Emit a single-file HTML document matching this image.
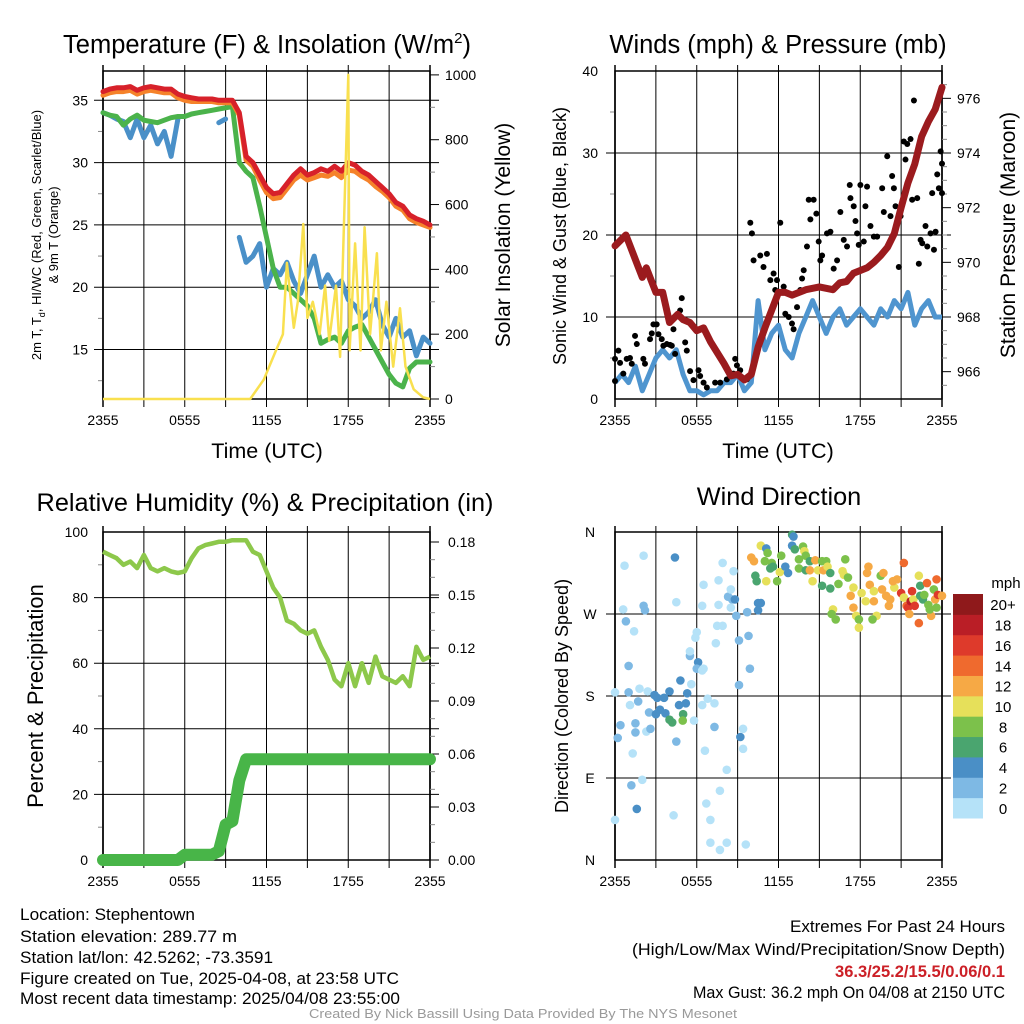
<!DOCTYPE html>
<html><head><meta charset="utf-8">
<style>
html,body{margin:0;padding:0;background:#fff;}
svg{display:block;font-family:"Liberation Sans",sans-serif;}
</style></head>
<body>
<svg id="fig" width="1024" height="1024" viewBox="0 0 1024 1024" xmlns="http://www.w3.org/2000/svg">
<rect width="1024" height="1024" fill="#fff"/>
<g id="footer">
<text x="20" y="920" font-size="17" textLength="175" lengthAdjust="spacingAndGlyphs">Location: Stephentown</text>
<text x="20" y="942" font-size="17" textLength="217" lengthAdjust="spacingAndGlyphs">Station elevation: 289.77 m</text>
<text x="20" y="963" font-size="17" textLength="253" lengthAdjust="spacingAndGlyphs">Station lat/lon: 42.5262; -73.3591</text>
<text x="20" y="984" font-size="17" textLength="379" lengthAdjust="spacingAndGlyphs">Figure created on Tue, 2025-04-08, at 23:58 UTC</text>
<text x="20" y="1004" font-size="17" textLength="380" lengthAdjust="spacingAndGlyphs">Most recent data timestamp: 2025/04/08 23:55:00</text>
<text x="790" y="932" font-size="17" textLength="215" lengthAdjust="spacingAndGlyphs">Extremes For Past 24 Hours</text>
<text x="632" y="955" font-size="17" textLength="373" lengthAdjust="spacingAndGlyphs">(High/Low/Max Wind/Precipitation/Snow Depth)</text>
<text x="835" y="977" font-size="17" font-weight="bold" fill="#cc2027" textLength="170" lengthAdjust="spacingAndGlyphs">36.3/25.2/15.5/0.06/0.1</text>
<text x="693" y="998" font-size="17" textLength="312" lengthAdjust="spacingAndGlyphs">Max Gust: 36.2 mph On 04/08 at 2150 UTC</text>
<text x="309" y="1018" font-size="13" fill="#999" textLength="428" lengthAdjust="spacingAndGlyphs">Created By Nick Bassill Using Data Provided By The NYS Mesonet</text>
</g>
</svg>
<script>
// ---------- data ----------
const timeLabels = ["2355","0555","1155","1755","2355"];
const tempRed = [35.7,35.9,36,36,36.1,35.8,36,36.1,36,35.9,35.9,35.5,35.3,35.2,35.1,35.1,35.1,35,35,35,34,30.5,30,29,28,27.5,27.6,28.3,29,29.5,29,29.2,29.5,29.3,29.7,29.3,30,29.8,29.3,29,28.5,28,27.5,26.8,26.5,25.8,25.5,25.3,25];
const tempOrange = [35.4,35.6,35.7,35.7,35.8,35.5,35.7,35.8,35.7,35.6,35.6,35.2,35.0,34.9,34.9,34.9,34.9,34.8,34.8,34.8,33.8,30.2,29.7,28.6,27.6,27.1,27.2,27.9,28.6,29.0,28.6,28.8,29.0,28.9,29.2,28.8,29.4,29.3,28.9,28.6,28.1,27.7,27.2,26.5,26.2,25.5,25.2,25.0,24.8];
const dewGreen = [34,33.8,33.7,33,33.5,33.8,33.4,33.3,33.2,33.4,33.6,33.7,33.7,33.9,34,34.1,34.2,34.3,34.4,34.5,30,29.3,28.8,26.5,24,21.5,20,20,19.5,19,18.5,17.5,15.5,15.8,16,15.5,16.5,16.8,17,16,15,14,13,12.3,12,13.5,14,14,14];
const chillBlue = [34,33.8,33.5,33.3,32,33.5,32,33,31.5,32.5,30.5,33.5,null,null,null,null,null,33.2,33.5,null,24,22,22.5,23.5,20,21.5,21,22,20.5,19.5,21,22.5,20,21,20,20.5,19,18.5,17.5,18,19,17,16,17.5,16,16.5,14.5,16,15.5];
const solarHours = [0,10.8,11.8,12,12.7,13.2,13.5,14,14.3,14.7,15,15.4,15.9,16.3,16.6,17.1,17.4,18,18.1,18.5,18.9,19.2,19.6,20.1,20.4,20.8,21.3,21.8,22.2,22.8,23.5,24];
const solarValues = [0,0,60,80,150,200,420,220,300,540,250,300,200,350,180,350,130,1000,150,480,150,530,200,450,150,300,100,280,100,30,5,0];
const windBlue = [2,3,2,4,1,3,5,6,5,6,3,1,1,0.5,1,1,2,2,3,1,2,12,6,8,9,6,5,8,10,12,10,8,10,11,9,10,11,10,9,11,10,12,11,13,9,11,12,10,10];
const pressureHours = [0,0.8,1.5,2,2.3,3,3.5,4,4.6,5,5.5,6,6.5,7,8,8.5,9,9.5,10,10.5,11,12,12.5,13,14,15,16,16.5,17,17.5,18,18.5,19,19.5,20,20.5,21,21.5,22,22.5,23,23.5,24];
const pressureValues = [970.6,971.0,970.1,969.45,969.8,968.9,968.9,967.8,968.1,967.9,967.8,967.5,967.6,967.1,966.3,965.85,965.9,965.7,965.9,966.9,967.6,968.9,968.9,968.8,969.0,969.1,969.0,969.25,969.3,969.6,969.7,969.8,970.0,970.25,970.55,971.05,972.0,972.9,973.6,974.6,975.15,975.6,976.4];
const gustHours = [0,0,0.25,0.37,0.61,0.86,1.1,1.23,1.47,1.6,2.08,2.2,2.57,2.7,2.82,3.06,3.19,3.43,3.55,3.8,4.04,4.17,4.29,4.41,4.78,4.9,5.15,5.27,5.51,5.76,6.13,6.25,6.5,6.74,7.35,7.72,8.21,8.7,8.82,8.95,9.19,9.68,9.93,10.05,10.17,10.66,10.9,11.15,11.4,11.64,11.76,11.89,12.13,12.38,12.5,12.75,12.99,13.11,13.36,13.6,13.73,13.85,14.09,14.22,14.34,14.58,14.78,14.95,15.07,15.2,15.56,15.81,16.05,16.3,16.54,16.79,17.03,17.23,17.28,17.52,17.65,17.77,17.89,18.01,18.26,18.38,18.5,18.75,19.0,19.24,19.61,19.73,19.98,20.22,20.34,20.47,20.59,20.83,20.96,21.08,21.2,21.32,21.45,21.69,21.81,21.94,22.18,22.3,22.43,22.55,22.79,22.92,23.16,23.28,23.41,23.53,23.65,23.77,23.9,24,24];
const gustValues = [2.2,4.9,5.9,4.4,3.1,4.9,5.0,4.3,7.7,6.7,4.9,4.3,7.3,8.0,9.1,9.1,7.9,7.3,6.5,6.7,6.6,6.5,8.5,5.5,10.8,12.3,6.9,5.9,3.4,2.3,3.5,2.8,2.0,1.4,2.0,2.0,2.4,3.1,4.9,4.1,3.5,2.4,21.5,20.2,16.9,17.5,16.1,17.7,14.5,15.3,13.3,14.5,21.5,13.7,10.4,10.0,9.2,8.5,11.2,13.3,14.7,15.7,18.6,24.3,21.9,24.3,22.6,19.2,16.9,17.5,20.2,20.4,15.9,16.9,22.8,19.4,18.6,26.1,24.5,23.5,21.7,20.2,18.8,26.1,19.2,23.5,25.9,21.1,19.8,19.8,25.7,22.8,29.6,22.3,27.2,25.7,23.5,16.1,22.3,23.9,31.4,29.2,31.1,31.7,24.3,36.4,24.5,16.5,19.4,19.0,21.1,18.6,20.2,25.1,18.2,20.4,27.4,25.7,30.2,28.7,25.1];
const rhValues = [94,93,92,90,91,89,93,89,88,89,88,87.5,88,92,95,96,96.5,97,97,97.5,97.5,97.5,94,93,88,83,80,73,72,70,69,70,65,61,55,53,60,53,60,54,62,56,55,54,56,53,65,61,62];
const precipValues = [0,0,0,0,0,0,0,0,0,0,0,0,0.003,0.003,0.003,0.003,0.003,0.005,0.02,0.022,0.045,0.057,0.057,0.057,0.057,0.057,0.057,0.057,0.057,0.057,0.057,0.057,0.057,0.057,0.057,0.057,0.057,0.057,0.057,0.057,0.057,0.057,0.057,0.057,0.057,0.057,0.057,0.057,0.057];
const dirHours = [0,0.7,0.6,0.8,1.4,1.0,0,1,1.7,1.1,0.4,0.2,1.5,1.5,1.3,1.2,2,1.6,2.1,4.4,2.1,2.2,1.8,2.4,2.3,2.6,2.9,3.1,3.6,2.5,3,3.3,3.7,4,4,4.2,4.8,4.7,5.2,5,4.97,4.5,4.5,4.3,5.3,5.6,5.8,5.5,5.5,5.9,6.1,6,6.5,6.4,6.8,7.3,7.3,6.6,6.7,7,7.7,8.2,7,7.7,8.2,9.6,9.4,9.4,9.2,9.1,9.9,9.8,9.1,8.9,8.6,8.3,8.5,8.8,9.7,10.5,10.7,10.5,6.5,6.4,7.6,7.5,7.9,7.4,7.6,7.9,8.7,8.5,6,6.4,
10,10.2,10.3,10.4,10.7,11.1,11.2,11,11.5,11.6,11.4,12.1,12.5,12.7,11.9,11.1,12.2,13,13.1,13,13.2,13.8,13.9,13.5,14,14.3,14.7,13.5,14,14.3,14.9,15.3,15.2,15.5,15.6,15.8,14.5,15.2,15.8,16.4,16.9,16.7,16.8,17.1,17.3,17.5,16,15.9,16.2,17.5,17.7,17.9,17.9,18.6,18.5,18.1,18.7,19,18.4,19,19.2,18.9,19.5,19.7,19.6,19.9,20.1,20.2,20.5,20.7,20.4,21.2,21,21.2,21.4,21.5,21.7,21.8,21.6,21.9,22,22.3,22.3,22.4,22.4,22.6,22.7,22.9,23,23.2,23.4,23.6,23.5,23.6,23.7,24,23.1];
const dirDegrees = [44,323,275,262,251,213,184,184,174,170,148,134,150,140,117,82,88,56,334,332,279,274,188,185,141,144,181,178,178,162,160,165,161,185,154,151,197,170,172,160,153,130,283,49,183,193,153,224,229,244,217,210,210,170,177,172,146,120,62,44,76,99,19,11,19,17,144,122,135,192,210,246,241,268,286,289,297,286,272,282,282,274,302,279,280,257,257,238,307,326,317,277,250,208,
332,328,312,306,345,342,337,328,326,322,320,316,322,315,306,306,334,357,355,345,341,344,339,330,334,328,329,320,318,318,318,318,328,328,322,315,306,301,298,303,330,317,313,310,290,299,275,270,264,277,268,264,255,322,315,293,302,295,284,284,268,264,312,315,297,290,279,286,299,308,306,326,293,288,279,277,284,295,270,286,279,260,312,301,290,286,291,304,280,268,297,308,286,277,291,290,275];
const dirSpeeds = [1,1,1,2,1,2,1,2,2,1,3,2,2,2,1,2,1,4,1,4,2,2,1,1,1,3,4,5,4,3,4,5,4,5,6,7,5,4,5,6,8,3,1,1,4,1,1,3,1,1,4,3,1,1,1,1,2,1,1,1,1,1,1,1,1,1,1,1,4,3,3,3,3,3,3,2,1,4,3,5,5,4,1,1,1,1,1,1,1,1,1,1,1,1,
12,12,6,6,10,5,8,8,8,6,7,10,4,5,8,10,8,6,4,5,6,8,10,8,8,6,12,8,6,12,10,12,8,8,10,6,10,6,6,8,8,10,10,8,12,10,10,8,8,12,10,8,10,12,12,10,12,10,10,12,10,8,8,12,12,12,12,12,10,12,12,14,16,10,14,16,18,16,12,10,16,14,10,6,6,6,8,14,8,12,8,14,12,8,16,12,8,10];
const speedBinLabels = ["0","2","4","6","8","10","12","14","16","18","20+"];
const speedBinColors = ["#b5e2f8","#7eb9e4","#4a8fc6","#4aa56f","#7cc14b","#e6e05a","#f6a945","#ef6a2e","#de3a2b","#ba1e26","#8f191b"];

// ---------- helpers ----------
const NS = "http://www.w3.org/2000/svg";
const svg = document.getElementById('fig');
function el(tag, attrs, parent){
  const e = document.createElementNS(NS, tag);
  for (const k in attrs) e.setAttribute(k, attrs[k]);
  (parent||svg).appendChild(e);
  return e;
}
function txt(parent, x, y, s, size, anchor, extra){
  const t = el('text', Object.assign({x:x, y:y, 'font-size':size, 'text-anchor':anchor||'start'}, extra||{}), parent);
  t.textContent = s;
  return t;
}
function linePath(xs, ys){
  let d = '', pen = false;
  for (let i=0;i<xs.length;i++){
    if (ys[i]===null || ys[i]===undefined){ pen=false; continue; }
    d += (pen?'L':'M') + xs[i].toFixed(1) + ',' + ys[i].toFixed(1);
    pen = true;
  }
  return d;
}
function halfHours(n){ const a=[]; for(let i=0;i<n;i++) a.push(i*0.5); return a; }

function frame(g, x0, x1, y0, y1, hGrid, leftTicks, minorLeft){
  const xs = h => x0 + (x1-x0)*h/24;
  for (let i=0;i<=8;i++){
    const x = xs(i*3);
    const gl = el('line',{x1:x,y1:y0-6,x2:x,y2:y1+8,stroke:'#000','stroke-width':(i==0||i==8)?1.5:1}, g);
    
    
  }
  hGrid.forEach(y=>{
    const gl = el('line',{x1:x0-9,y1:y,x2:x1+9,y2:y,stroke:'#000','stroke-width':1}, g);
    
    
  });
  (minorLeft||[]).forEach(y=>{
    el('line',{x1:x0-5,y1:y,x2:x0,y2:y,stroke:'#888','stroke-width':1}, g);
  });
  const border = el('rect',{x:x0,y:y0,width:x1-x0,height:y1-y0,fill:'none',stroke:'#000','stroke-width':1.5}, g);
  
  
  timeLabels.forEach((s,i)=>{
    const t = txt(g, xs(i*6), y1+26, s, 14, 'middle');
    
    
  });
  return xs;
}

// ---------- Panel 1: temperature ----------
(function(){
  const g = el('g',{});
  
  
  const x0=103,x1=430,y0=71,y1=399;
  const tMin=11.03,tMax=37.35;
  const ty = v => y1 - (v-tMin)/(tMax-tMin)*(y1-y0);
  const sy = v => y1 - v/1012*(y1-y0);
  const leftVals=[15,20,25,30,35];
  const xs = frame(g,x0,x1,y0,y1,leftVals.map(ty),[],[12.5,17.5,22.5,27.5,32.5].map(ty));
  leftVals.forEach(v=>{ const t=txt(g,88,ty(v)+5,String(v),14,'end');  });
  [0,200,400,600,800,1000].forEach(v=>{
    el('line',{x1:x1,y1:sy(v),x2:x1+9,y2:sy(v),stroke:'#000'},g);
    const t=txt(g,445,sy(v)+5,String(v),14,'start');  
  });
  [100,300,500,700,900].forEach(v=>el('line',{x1:x1,y1:sy(v),x2:x1+5,y2:sy(v),stroke:'#888'},g));
  const hh = halfHours(tempRed.length);
  const X = hh.map(xs);
  const series = [[chillBlue,'#4a90c8','wind-chill-line'],[dewGreen,'#4bb34b','dewpoint-line'],[tempOrange,'#f5822a','temp-9m-line'],[tempRed,'#d7212a','temp-2m-line']];
  series.forEach(s=>{
    const p = el('path',{d:linePath(X,s[0].map(v=>v===null?null:ty(v))),fill:'none',stroke:s[1],'stroke-width':5,'stroke-linejoin':'round','stroke-linecap':'round'},g);
    
    
  });
  const sp = el('path',{d:linePath(solarHours.map(xs),solarValues.map(sy)),fill:'none',stroke:'#f9e04f','stroke-width':2.5,'stroke-linejoin':'round'},g);
  
  
  const title = el('text',{x:267,y:53,'font-size':25.5,'text-anchor':'middle'},g);
  
  
  title.innerHTML = 'Temperature (F) &amp; Insolation (W/m<tspan dy="-10" font-size="15">2</tspan><tspan dy="10">)</tspan>';
  const xl = txt(g,267,458,'Time (UTC)',21.5,'middle');  
  const yl1 = el('text',{x:0,y:0,'font-size':13,'text-anchor':'middle',transform:'translate(41,235) rotate(-90)'},g);
  
  
  yl1.innerHTML='2m T, T<tspan dy="4" font-size="9">d</tspan><tspan dy="-4">, HI/WC (Red, Green, Scarlet/Blue)</tspan>';
  const yl2 = txt(g,0,0,'& 9m T (Orange)',13,'middle',{transform:'translate(58,235) rotate(-90)'});
   
  const yr = txt(g,0,0,'Solar Insolation (Yellow)',21,'middle',{transform:'translate(510,235) rotate(-90)'});
   
})();

// ---------- Panel 2: winds & pressure ----------
(function(){
  const g = el('g',{});
  
  
  const x0=615,x1=942,y0=71,y1=399;
  const wy = v => y1 - v/40*(y1-y0);
  const py = v => y1 - (v-965)/12*(y1-y0);
  const leftVals=[0,10,20,30,40];
  const xs = frame(g,x0,x1,y0,y1,[10,20,30].map(wy),[],[5,15,25,35].map(wy));
  leftVals.forEach(v=>{ const t=txt(g,598,wy(v)+5,String(v),14,'end');  });
  [966,968,970,972,974,976].forEach(v=>{
    el('line',{x1:x1,y1:py(v),x2:x1+9,y2:py(v),stroke:'#000'},g);
    const t=txt(g,957,py(v)+5,String(v),14,'start');  
  });
  [965.5,966.5,967,967.5,968.5,969,969.5,970.5,971,971.5,972.5,973,973.5,974.5,975,975.5,976.5].forEach(v=>el('line',{x1:x1,y1:py(v),x2:x1+5,y2:py(v),stroke:'#888'},g));
  const hh = halfHours(windBlue.length);
  const wp = el('path',{d:linePath(hh.map(xs),windBlue.map(wy)),fill:'none',stroke:'#4f95cf','stroke-width':5,'stroke-linejoin':'round'},g);
  
  
  gustHours.forEach((h,i)=>{
    const c = el('circle',{cx:xs(h),cy:wy(gustValues[i]),r:3,fill:'#000'},g);
    
    
  });
  const pp = el('path',{d:linePath(pressureHours.map(xs),pressureValues.map(py)),fill:'none',stroke:'#9b1b1e','stroke-width':7,'stroke-linejoin':'round','stroke-linecap':'round'},g);
  
  
  const title = txt(g,778,53,'Winds (mph) & Pressure (mb)',25.5,'middle');  
  const xl = txt(g,778,458,'Time (UTC)',21.5,'middle');  
  const yl = txt(g,0,0,'Sonic Wind & Gust (Blue, Black)',18,'middle',{transform:'translate(566,236) rotate(-90)'});
   
  const yr = txt(g,0,0,'Station Pressure (Maroon)',21,'middle',{transform:'translate(1015,235) rotate(-90)'});
   
})();

// ---------- Panel 3: RH & precip ----------
(function(){
  const g = el('g',{});
  
  
  const x0=103,x1=430,y0=532,y1=860;
  const ry = v => y1 - v/100*(y1-y0);
  const pY = v => y1 - v/0.18*(y1-542);
  const xs = frame(g,x0,x1,y0,y1,[20,40,60,80].map(ry),[],[10,30,50,70,90].map(ry));
  [0,20,40,60,80,100].forEach(v=>{ const t=txt(g,88,ry(v)+5,String(v),14,'end');  });
  ["0.00","0.03","0.06","0.09","0.12","0.15","0.18"].forEach(s=>{
    const v=parseFloat(s);
    el('line',{x1:x1,y1:pY(v),x2:x1+9,y2:pY(v),stroke:'#000'},g);
    const t=txt(g,448,pY(v)+5,s,14,'start');  
  });
  [0.01,0.02,0.04,0.05,0.07,0.08,0.10,0.11,0.13,0.14,0.16,0.17].forEach(v=>el('line',{x1:x1,y1:pY(v),x2:x1+5,y2:pY(v),stroke:'#888'},g));
  const hh = halfHours(rhValues.length);
  const rp = el('path',{d:linePath(hh.map(xs),rhValues.map(ry)),fill:'none',stroke:'#8dc84b','stroke-width':4.5,'stroke-linejoin':'round'},g);
  
  
  const hp = halfHours(precipValues.length);
  const pl = el('path',{d:linePath(hp.map(xs),precipValues.map(pY)),fill:'none',stroke:'#48b548','stroke-width':12,'stroke-linejoin':'round','stroke-linecap':'round'},g);
  
  
  const title = txt(g,265,511,'Relative Humidity (%) & Precipitation (in)',25.3,'middle');  
  const yl = txt(g,0,0,'Percent & Precipitation',22,'middle',{transform:'translate(43,696) rotate(-90)'});
   
})();

// ---------- Panel 4: wind direction ----------
(function(){
  const g = el('g',{});
  
  
  const x0=615,x1=942,y0=532,y1=860;
  const dy = v => y1 - v/360*(y1-y0);
  const xs = frame(g,x0,x1,y0,y1,[90,180,270].map(dy),[]);
  ["N","E","S","W","N"].forEach((s,i)=>{ const t=txt(g,590,dy(i*90)+5,s,14,'middle');  });
  dirHours.forEach((h,i)=>{
    const bin = Math.min(10, Math.floor(dirSpeeds[i]/2));
    const c = el('circle',{cx:xs(h),cy:dy(dirDegrees[i]),r:4.3,fill:speedBinColors[bin]},g);
    
    
  });
  const title = txt(g,779,505,'Wind Direction',25.3,'middle');  
  const yl = txt(g,0,0,'Direction (Colored By Speed)',18,'middle',{transform:'translate(568,696) rotate(-90)'});
   
  const cb = el('g',{},g);
  
  
  const top=594,bot=818,h=(bot-top)/speedBinColors.length;
  speedBinColors.forEach((c,i)=>{
    const r = el('rect',{x:953,y:bot-(i+1)*h,width:30,height:h+0.5,fill:c},cb);
    
    
    const t = txt(cb,1003,bot-i*h-h/2+6,speedBinLabels[i],15,'middle');
    
    
  });
  const u = txt(cb,1006,588,'mph',15,'middle');
  
  
})();
</script>
</body></html>
